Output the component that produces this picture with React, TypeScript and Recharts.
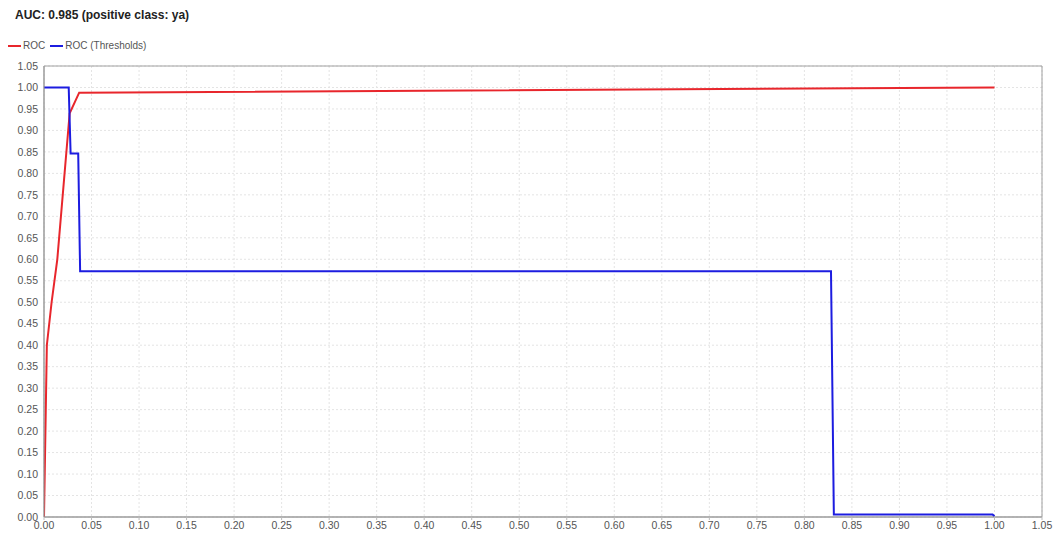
import React from 'react';
import {
  LineChart,
  Line,
  XAxis,
  YAxis,
  CartesianGrid,
  ReferenceArea,
} from 'recharts';

// ROC curve points (false positive rate, true positive rate)
const rocPoints = [
  { x: 0, y: 0 },
  { x: 0.003, y: 0.4 },
  { x: 0.008, y: 0.5 },
  { x: 0.014, y: 0.6 },
  { x: 0.027, y: 0.94 },
  { x: 0.037, y: 0.988 },
  { x: 1.0, y: 1.0 },
];

// threshold step curve
const thresholdPoints = [
  { x: 0, y: 1.0 },
  { x: 0.026, y: 1.0 },
  { x: 0.028, y: 0.846 },
  { x: 0.036, y: 0.846 },
  { x: 0.038, y: 0.572 },
  { x: 0.828, y: 0.572 },
  { x: 0.831, y: 0.006 },
  { x: 0.998, y: 0.006 },
  { x: 1.0, y: 0.002 },
];

const ticks = [
  0, 0.05, 0.1, 0.15, 0.2, 0.25, 0.3, 0.35, 0.4, 0.45, 0.5, 0.55, 0.6, 0.65,
  0.7, 0.75, 0.8, 0.85, 0.9, 0.95, 1.0, 1.05,
];

const title = 'AUC: 0.985 (positive class: ya)';
const legendItems = [
  { name: 'ROC', color: '#e8262c' },
  { name: 'ROC (Thresholds)', color: '#1c1ce0' },
];

const font = '"Liberation Sans", Arial, sans-serif';
const tickStyle = { fontSize: 10.5, fill: '#555', fontFamily: font };

export default function App() {
  return (
    <div
      style={{
        position: 'absolute',
        left: 0,
        top: 0,
        width: 1059,
        height: 543,
        background: '#fff',
        fontFamily: font,
      }}
    >
      <div
        style={{
          position: 'absolute',
          left: 15,
          top: 8,
          fontSize: 12,
          fontWeight: 'bold',
          color: '#222',
        }}
      >
        {title}
      </div>
      <div
        style={{
          position: 'absolute',
          left: 8,
          top: 40,
          display: 'flex',
          alignItems: 'center',
          fontSize: 10,
          color: '#555',
        }}
      >
        {legendItems.map((it) => (
          <div key={it.name} style={{ display: 'flex', alignItems: 'center', marginRight: 5 }}>
            <div style={{ width: 13, height: 2, background: it.color, marginRight: 2 }} />
            <span>{it.name}</span>
          </div>
        ))}
      </div>
      <LineChart
        width={1059}
        height={543}
        margin={{ top: 66, right: 17, bottom: 0, left: 0 }}
        style={{ position: 'absolute', left: 0, top: 0 }}
      >
        <CartesianGrid stroke="#e4e4e4" strokeDasharray="2 2" />
        <XAxis
          type="number"
          dataKey="x"
          domain={[0, 1.05]}
          ticks={ticks}
          interval={0}
          tickFormatter={(v: number) => v.toFixed(2)}
          tick={tickStyle}
          tickLine={{ stroke: '#bbb' }}
          tickSize={3}
          axisLine={{ stroke: '#999' }}
          height={26}
          allowDataOverflow
        />
        <YAxis
          type="number"
          dataKey="y"
          domain={[0, 1.05]}
          ticks={ticks}
          interval={0}
          tickFormatter={(v: number) => v.toFixed(2)}
          tick={tickStyle}
          tickLine={false}
          tickSize={4}
          axisLine={{ stroke: '#999' }}
          width={44}
          allowDataOverflow
        />
        <ReferenceArea
          x1={0}
          x2={1.05}
          y1={0}
          y2={1.05}
          fill="none"
          stroke="#a0a0a0"
          strokeWidth={1}
        />
        <Line
          data={rocPoints}
          dataKey="y"
          type="linear"
          stroke={legendItems[0].color}
          strokeWidth={2}
          dot={false}
          isAnimationActive={false}
        />
        <Line
          data={thresholdPoints}
          dataKey="y"
          type="linear"
          stroke={legendItems[1].color}
          strokeWidth={2}
          dot={false}
          isAnimationActive={false}
        />
      </LineChart>
    </div>
  );
}
